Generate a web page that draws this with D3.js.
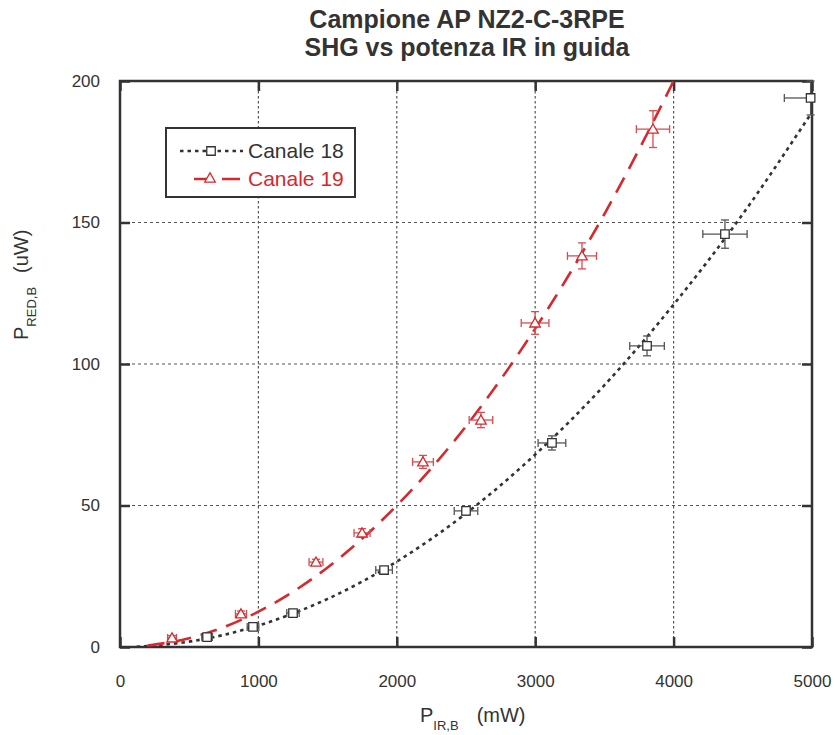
<!DOCTYPE html>
<html>
<head>
<meta charset="utf-8">
<script src="https://cdn.jsdelivr.net/npm/d3@7"></script>
<style>
  body { margin: 0; background: #fff; }
  text { font-family: "Liberation Sans", Arial, sans-serif; fill: #333; }
</style>
</head>
<body>
<div id="chart"></div>
<script>
// Canale 18 (squares)
var x18 = [629, 961, 1250, 1908, 2500, 3121, 3808, 4371, 4990];
var y18 = [3.5, 7.1, 12.0, 27.2, 48.1, 72.1, 106.4, 145.9, 194];
var ex18 = [38, 42, 45, 60, 85, 100, 125, 160, 190];
var ey18 = [0.8, 1, 1, 1.2, 1.5, 2.5, 3.5, 5, 6];

// Canale 19 (triangles)
var x19 = [376, 874, 1416, 1749, 2189, 2608, 2999, 3338, 3851];
var y19 = [3.2, 11.7, 30.0, 40.3, 65.4, 80.2, 114.5, 138.2, 183.0];
var ex19 = [32, 40, 50, 58, 75, 85, 100, 105, 120];
var ey19 = [0.8, 1, 1, 1.5, 2.3, 2.7, 4, 4.6, 6.5];

// fitted curves
var fitX18 = [120, 500, 1000, 1500, 2000, 2500, 3000, 3500, 4000, 4500, 5000];
var fitY18 = [0.1, 1.9, 7.6, 17.0, 30.2, 47.2, 68.0, 92.5, 121, 153, 189];
var fitX19 = [200, 500, 1000, 1500, 2000, 2500, 3000, 3500, 4000, 4100];
var fitY19 = [0.5, 3.1, 12.5, 28.1, 50, 78, 112.5, 153, 200, 210];

var xTicks = [0, 1000, 2000, 3000, 4000, 5000];
var yTicks = [0, 50, 100, 150, 200];
var xGrid = [1000, 2000, 3000, 4000];
var yGrid = [50, 100, 150];

var seriesNames = ["Canale 18", "Canale 19"];

function init() {
  var width = 835, height = 735;
  var left = 120, right = 812, top = 81, bottom = 647;
  var dark = "#333", red = "#d6282d", redBar = "#dc4a4e";

  var svg = d3.select("#chart").append("svg")
    .attr("width", width)
    .attr("height", height);

  var x = d3.scaleLinear().domain([0, 5000]).range([left, right]);
  var y = d3.scaleLinear().domain([0, 200]).range([bottom, top]);

  svg.append("clipPath").attr("id", "clip")
    .append("rect")
    .attr("x", left).attr("y", top)
    .attr("width", right - left).attr("height", bottom - top);

  // grid
  svg.selectAll(".vgrid").data(xGrid).enter().append("line")
    .attr("x1", d => x(d)).attr("x2", d => x(d))
    .attr("y1", top).attr("y2", bottom)
    .attr("stroke", "#555").attr("stroke-width", 1.2)
    .attr("stroke-dasharray", "2.5,2.5");
  svg.selectAll(".hgrid").data(yGrid).enter().append("line")
    .attr("x1", left).attr("x2", right)
    .attr("y1", d => y(d)).attr("y2", d => y(d))
    .attr("stroke", "#555").attr("stroke-width", 1.2)
    .attr("stroke-dasharray", "3,3");

  // axes
  var fmt = d3.format("d");
  var xAxis = d3.axisBottom(x).tickValues(xTicks).tickFormat(fmt).tickSizeInner(-10).tickSizeOuter(0).tickPadding(28);
  var yAxis = d3.axisLeft(y).tickValues(yTicks).tickFormat(fmt).tickSizeInner(-10).tickSizeOuter(0).tickPadding(20);
  var xTop = d3.axisTop(x).tickValues(xTicks).tickSizeInner(-10).tickSizeOuter(0).tickFormat("");
  var yRight = d3.axisRight(y).tickValues(yTicks).tickSizeInner(-10).tickSizeOuter(0).tickFormat("");

  function style(g) {
    g.select(".domain").remove();
    g.selectAll(".tick line").attr("stroke", dark).attr("stroke-width", 2.5);
    g.selectAll(".tick text").attr("font-size", 17).attr("fill", dark)
      .style("font-family", "'Liberation Sans', Arial, sans-serif");
  }
  svg.append("g").attr("transform", "translate(0," + bottom + ")").call(xAxis).call(style);
  svg.append("g").attr("transform", "translate(" + left + ",0)").call(yAxis).call(style);
  svg.append("g").attr("transform", "translate(0," + top + ")").call(xTop).call(style);
  svg.append("g").attr("transform", "translate(" + right + ",0)").call(yRight).call(style);

  // frame
  svg.append("rect")
    .attr("x", left).attr("y", top)
    .attr("width", right - left).attr("height", bottom - top)
    .attr("fill", "none").attr("stroke", dark).attr("stroke-width", 2.5);

  var plot = svg.append("g").attr("clip-path", "url(#clip)");
  var line = d3.line().x(d => x(d[0])).y(d => y(d[1])).curve(d3.curveMonotoneX);

  plot.append("path")
    .datum(d3.zip(fitX18, fitY18))
    .attr("d", line)
    .attr("fill", "none").attr("stroke", dark).attr("stroke-width", 2.6)
    .attr("stroke-dasharray", "3.5,4");
  plot.append("path")
    .datum(d3.zip(fitX19, fitY19))
    .attr("d", line)
    .attr("fill", "none").attr("stroke", red).attr("stroke-width", 2.6)
    .attr("stroke-dasharray", "17,10");

  function errorBars(xs, ys, exs, eys, color) {
    var d = d3.range(xs.length);
    var g = svg.append("g").attr("stroke", color).attr("stroke-width", 1.3).attr("fill", "none");
    var cap = 4;
    d.forEach(function(i) {
      var cx = x(xs[i]), cy = y(ys[i]);
      var x0 = x(xs[i] - exs[i]), x1 = Math.min(x(xs[i] + exs[i]), right);
      var y0 = Math.max(y(ys[i] + eys[i]), top), y1 = y(ys[i] - eys[i]);
      g.append("line").attr("x1", x0).attr("x2", x1).attr("y1", cy).attr("y2", cy);
      g.append("line").attr("x1", x0).attr("x2", x0).attr("y1", cy - cap).attr("y2", cy + cap);
      if (x(xs[i] + exs[i]) <= right) {
        g.append("line").attr("x1", x1).attr("x2", x1).attr("y1", cy - cap).attr("y2", cy + cap);
      }
      g.append("line").attr("x1", cx).attr("x2", cx).attr("y1", y0).attr("y2", y1);
      g.append("line").attr("x1", cx - cap).attr("x2", cx + cap).attr("y1", y0).attr("y2", y0);
      g.append("line").attr("x1", cx - cap).attr("x2", cx + cap).attr("y1", y1).attr("y2", y1);
    });
  }
  errorBars(x18, y18, ex18, ey18, "#555");
  errorBars(x19, y19, ex19, ey19, redBar);

  var sq = d3.symbol().type(d3.symbolSquare).size(72);
  var tri = d3.symbol().type(d3.symbolTriangle).size(48);

  svg.selectAll(".m18").data(d3.zip(x18, y18)).enter().append("path")
    .attr("d", sq)
    .attr("transform", d => "translate(" + x(d[0]) + "," + y(d[1]) + ")")
    .attr("fill", "#fff").attr("stroke", dark).attr("stroke-width", 1.3);
  svg.selectAll(".m19").data(d3.zip(x19, y19)).enter().append("path")
    .attr("d", tri)
    .attr("transform", d => "translate(" + x(d[0]) + "," + (y(d[1]) + 1) + ")")
    .attr("fill", "#fff").attr("stroke", red).attr("stroke-width", 1.3);

  // legend
  var lg = svg.append("g");
  lg.append("rect").attr("x", 166).attr("y", 128).attr("width", 189).attr("height", 69)
    .attr("fill", "#fff").attr("stroke", dark).attr("stroke-width", 2);
  lg.append("line").attr("x1", 180).attr("x2", 243).attr("y1", 151).attr("y2", 151)
    .attr("stroke", dark).attr("stroke-width", 2.6).attr("stroke-dasharray", "3.5,4");
  lg.append("path").attr("d", sq).attr("transform", "translate(211,151)")
    .attr("fill", "#fff").attr("stroke", dark).attr("stroke-width", 1.3);
  lg.append("text").attr("x", 248).attr("y", 158).attr("font-size", 21).text(seriesNames[0]);
  lg.append("line").attr("x1", 194).attr("x2", 240).attr("y1", 179).attr("y2", 179)
    .attr("stroke", red).attr("stroke-width", 2.6).attr("stroke-dasharray", "18,10");
  lg.append("path").attr("d", tri).attr("transform", "translate(210,179)")
    .attr("fill", "#fff").attr("stroke", red).attr("stroke-width", 1.3);
  lg.append("text").attr("x", 248).attr("y", 186).attr("font-size", 21)
    .style("fill", red).text(seriesNames[1]);

  // title
  svg.append("text").attr("x", 467).attr("y", 28).attr("text-anchor", "middle")
    .attr("font-size", 25).attr("font-weight", "bold").text("Campione AP NZ2-C-3RPE");
  svg.append("text").attr("x", 467).attr("y", 56).attr("text-anchor", "middle")
    .attr("font-size", 25).attr("font-weight", "bold").text("SHG vs potenza IR in guida");

  // axis titles
  var xt = svg.append("text").attr("x", 420).attr("y", 722).attr("font-size", 20);
  xt.append("tspan").text("P");
  xt.append("tspan").attr("font-size", 13).attr("dy", 8).text("IR,B");
  xt.append("tspan").attr("dy", -8).attr("dx", 18).text("(mW)");

  var yt = svg.append("text").attr("transform", "translate(28,340) rotate(-90)").attr("font-size", 20);
  yt.append("tspan").text("P");
  yt.append("tspan").attr("font-size", 13).attr("dy", 8).text("RED,B");
  yt.append("tspan").attr("dy", -8).attr("dx", 14).text("(uW)");
}
window.onload = init;
</script>
</body>
</html>
